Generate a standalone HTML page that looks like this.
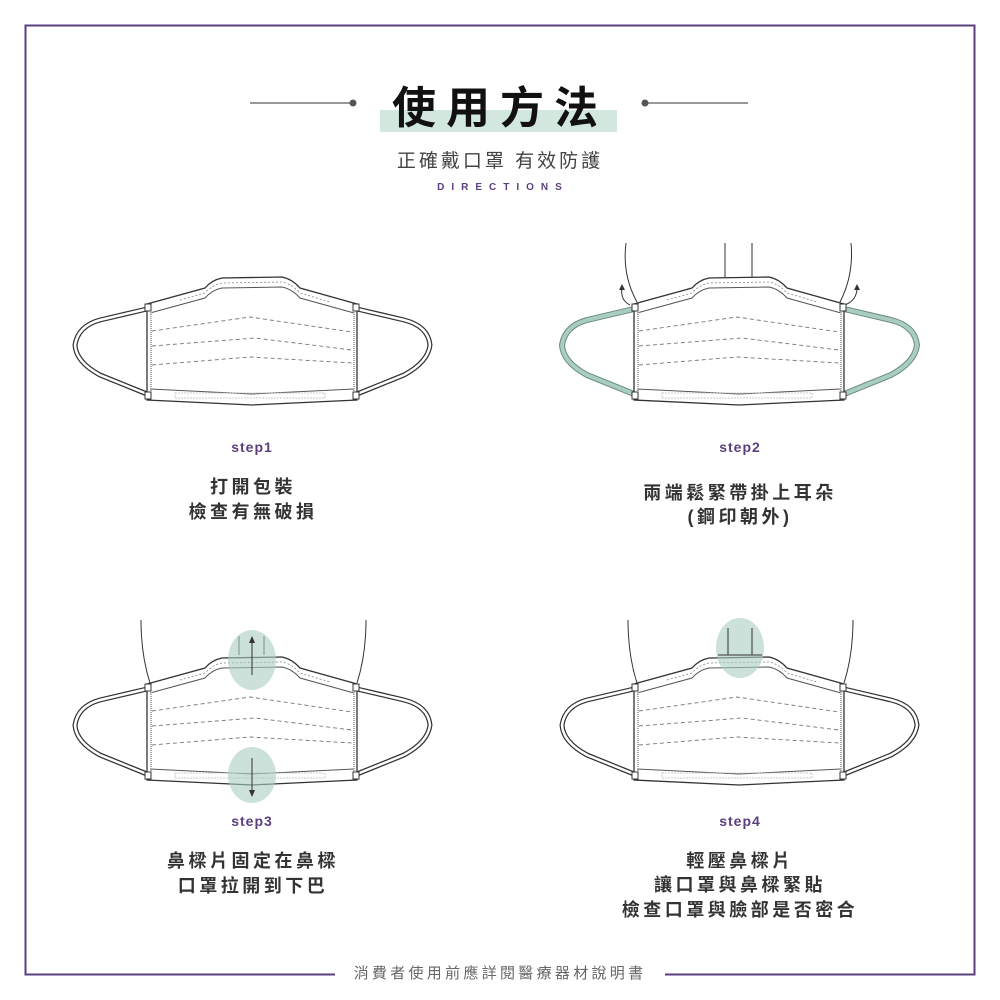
<!DOCTYPE html>
<html><head><meta charset="utf-8"><style>
html,body{margin:0;padding:0;background:#fff}
svg{display:block}
text{font-family:"Liberation Sans","Noto Sans CJK TC",sans-serif}
</style></head><body>
<svg width="1000" height="1000" viewBox="0 0 1000 1000" xmlns="http://www.w3.org/2000/svg">
<defs>
<g id="body">
  <path d="M147,304 L205,288 Q212,280 222,278 L282,277 Q292,279 300,288 L357,304 L357,400 L252,405 L147,400 Z" fill="#fff" stroke="#333" stroke-width="1.3"/>
  <path d="M150,313 L205,298 Q212,290 222,288 L282,287 Q292,289 300,298 L354,313" fill="none" stroke="#555" stroke-width="1"/>
  <path d="M180,300 L205,293 Q212,285 222,283 L282,282 Q292,284 300,293 L330,302" fill="none" stroke="#888" stroke-width="0.8" stroke-dasharray="2,2"/>
  <path d="M150,389 L252,394 L354,389" fill="none" stroke="#555" stroke-width="1"/>
  <rect x="175" y="393" width="150" height="5" fill="none" stroke="#bbb" stroke-width="0.8" stroke-dasharray="2,1"/>
  <line x1="151" y1="312" x2="151" y2="392" stroke="#aaa" stroke-width="2" stroke-dasharray="1,1"/>
  <line x1="354" y1="312" x2="354" y2="392" stroke="#aaa" stroke-width="2" stroke-dasharray="1,1"/>
  <g fill="none" stroke="#777" stroke-width="0.9" stroke-dasharray="4,3">
    <path d="M152,331 L250,317 L352,332"/>
    <path d="M152,346 L255,338 L352,350"/>
    <path d="M152,365 L250,357 L352,363"/>
  </g>
  <rect x="145" y="304" width="6" height="7" fill="#fff" stroke="#333"/>
  <rect x="353" y="304" width="6" height="7" fill="#fff" stroke="#333"/>
  <rect x="145" y="392" width="6" height="7" fill="#fff" stroke="#333"/>
  <rect x="353" y="392" width="6" height="7" fill="#fff" stroke="#333"/>
</g>
<path id="loops" d="M147,309 L100,320 Q78,326 75,345 Q76,362 100,375 L147,394 M357,309 L404,320 Q428,326 430,345 Q428,362 404,375 L357,394" fill="none"/>
<g id="maskB">
  <use href="#loops" stroke="#333" stroke-width="5"/>
  <use href="#loops" stroke="#fff" stroke-width="2.5"/>
  <use href="#body"/>
</g>
<g id="maskG">
  <use href="#loops" stroke="#6a8a7e" stroke-width="6"/>
  <use href="#loops" stroke="#a9cdbf" stroke-width="4"/>
  <use href="#body"/>
</g>
</defs>

<rect x="25.5" y="25.5" width="949" height="949" fill="none" stroke="#5b3f7f" stroke-width="2"/>
<rect x="335" y="962" width="330" height="20" fill="#fff"/>
<text x="500" y="978" text-anchor="middle" font-size="15" fill="#666" letter-spacing="3.3">消費者使用前應詳閱醫療器材說明書</text>

<line x1="250" y1="103" x2="350" y2="103" stroke="#777" stroke-width="1.5"/>
<circle cx="353" cy="103" r="3.5" fill="#555"/>
<line x1="648" y1="103" x2="748" y2="103" stroke="#777" stroke-width="1.5"/>
<circle cx="645" cy="103" r="3.5" fill="#555"/>
<rect x="380" y="110" width="237" height="22" fill="#d2e8df"/>
<text x="500" y="123" text-anchor="middle" font-size="44" font-weight="bold" fill="#111" letter-spacing="10">使用方法</text>
<text x="500" y="167" text-anchor="middle" font-size="19" fill="#444" letter-spacing="3">正確戴口罩 有效防護</text>
<text x="503" y="190" text-anchor="middle" font-size="10" font-weight="bold" fill="#5b3f7f" letter-spacing="7">DIRECTIONS</text>

<use href="#maskB"/>
<g fill="none" stroke="#333" stroke-width="1">
  <path d="M626,243 Q622,275 637,302"/>
  <path d="M851,243 Q854,275 840,302"/>
  <path d="M725,243 L725,277 M752,243 L752,277"/>
  <path d="M630,305 Q620,300 622,288"/>
  <path d="M845,305 Q857,300 857,288"/>
</g>
<path d="M619,290 L622,284 L625,290 Z M854,290 L857,284 L860,290 Z" fill="#333"/>
<use href="#maskG" transform="translate(487,0)"/>

<g fill="none" stroke="#333" stroke-width="1">
  <path d="M141,620 Q141,655 150,683"/>
  <path d="M366,620 Q366,655 357,683"/>
  <path d="M239,636 L239,655 M264,636 L264,655"/>
</g>
<use href="#maskB" transform="translate(0,380)"/>
<ellipse cx="252" cy="660" rx="24" ry="30" fill="#a9cdbf" opacity="0.6"/>
<ellipse cx="252" cy="775" rx="24" ry="28" fill="#a9cdbf" opacity="0.6"/>
<g stroke="#333" stroke-width="1"><line x1="252" y1="640" x2="252" y2="675"/><line x1="252" y1="758" x2="252" y2="793"/></g>
<path d="M249,643 L252,636 L255,643 Z M249,790 L252,797 L255,790 Z" fill="#333"/>

<g fill="none" stroke="#333" stroke-width="1">
  <path d="M628,620 Q628,655 637,683"/>
  <path d="M853,620 Q853,655 844,683"/>
</g>
<use href="#maskB" transform="translate(487,380)"/>
<ellipse cx="740" cy="648" rx="24" ry="30" fill="#a9cdbf" opacity="0.6"/>
<g stroke="#333" stroke-width="1"><line x1="728" y1="628" x2="728" y2="655"/><line x1="752" y1="628" x2="752" y2="655"/><line x1="718" y1="655" x2="762" y2="655"/></g>

<g font-weight="bold" font-size="14" fill="#5b3f7f" text-anchor="middle" letter-spacing="1">
<text x="252" y="452">step1</text><text x="740" y="452">step2</text>
<text x="252" y="826">step3</text><text x="740" y="826">step4</text>
</g>
<g font-weight="bold" font-size="18" fill="#333" text-anchor="middle" letter-spacing="3.5">
<text x="253" y="493">打開包裝</text>
<text x="253" y="518">檢查有無破損</text>
<text x="740" y="499">兩端鬆緊帶掛上耳朵</text>
<text x="740" y="523">(鋼印朝外)</text>
<text x="253" y="867">鼻樑片固定在鼻樑</text>
<text x="253" y="892">口罩拉開到下巴</text>
<text x="740" y="867">輕壓鼻樑片</text>
<text x="740" y="891">讓口罩與鼻樑緊貼</text>
<text x="740" y="916">檢查口罩與臉部是否密合</text>
</g>
</svg>
</body></html>
